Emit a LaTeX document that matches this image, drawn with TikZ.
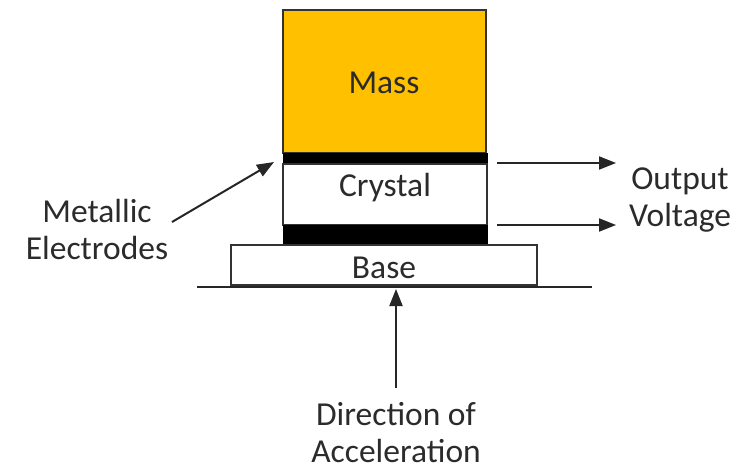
\documentclass[tikz,border=0pt]{standalone}
\usepackage{fontspec}
\setmainfont{Carlito}
\usetikzlibrary{arrows.meta}
\definecolor{massfill}{HTML}{FFC000}
\definecolor{txt}{HTML}{2B2B2B}
\begin{document}
\begin{tikzpicture}[x=1pt,y=-1pt,
  lbl/.style={font=\fontsize{33.5}{37}\selectfont, text=txt, align=center},
  part/.style={draw=black!80, line width=1.2pt},
  electrode/.style={fill=black, draw=black},
  conn/.style={line width=2pt, draw=black!85, -{Triangle[length=17pt,width=13pt]}}]
  \useasboundingbox (0,0) rectangle (756,472);

  % sensor stack
  \draw[part, fill=massfill] (283,10) rectangle (486,153);
  \draw[electrode] (283,153) rectangle (487,164);
  \draw[part, fill=white] (283,164) rectangle (487,225);
  \draw[electrode] (283,225) rectangle (487,245);
  \draw[part, fill=white] (231,245) rectangle (537,285);
  \draw[line width=1.8pt, black!85] (197,287) -- (592,287);

  \node[lbl] (mass) at (384,83) {Mass};
  \node[lbl] (crystal) at (385,188) {Crystal};
  \node[lbl] (base) at (384,268) {Base};

  % labels
  \node[lbl] (elec) at (97,229) {Metallic\\Electrodes};
  \node[lbl] (out) at (680,200) {Output\\Voltage};
  \node[lbl] (acc) at (396,433) {Direction of\\Acceleration};

  % connectors
  \coordinate (eTip) at (274,162);
  \coordinate (eTail) at (172,222);
  \draw[conn] (eTail) -- (eTip);
  \coordinate (o1a) at (497,163);
  \coordinate (o1b) at (616,163);
  \coordinate (o2a) at (497,225);
  \coordinate (o2b) at (616,225);
  \draw[conn] (o1a) -- (o1b);
  \draw[conn] (o2a) -- (o2b);
  \coordinate (accTail) at (396,388);
  \coordinate (accTip) at (396,289);
  \draw[conn] (accTail) -- (accTip);
\end{tikzpicture}
\end{document}
